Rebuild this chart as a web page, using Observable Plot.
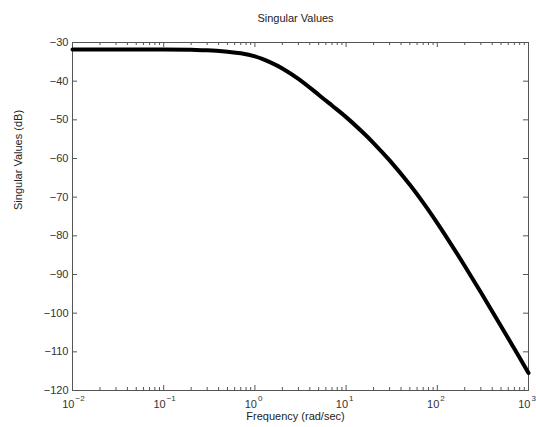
<!DOCTYPE html>
<html>
<head>
<meta charset="utf-8">
<script src="https://cdn.jsdelivr.net/npm/d3@7"></script>
<script src="https://cdn.jsdelivr.net/npm/@observablehq/plot@0.6"></script>
<style>
  body { margin: 0; background: white; }
</style>
</head>
<body>
<div id="chart"></div>
<script>
// Frequency (rad/sec) and singular values (dB)
const freq = [0.01, 0.1, 0.2, 0.3, 0.5, 0.7, 1, 1.5, 2, 3, 5, 7, 10, 15, 20, 30, 50, 70, 100, 150, 200, 300, 500, 700, 1000];
const singularDb = [-31.8, -31.8, -31.9, -32.0, -32.4, -32.8, -33.6, -35.2, -36.7, -39.4, -43.5, -46.3, -49.3, -53.1, -56.0, -60.5, -66.8, -71.4, -76.7, -83.1, -87.8, -94.6, -103.4, -109.2, -115.5];

const yTicks = [-30, -40, -50, -60, -70, -80, -90, -100, -110, -120];
const xExponents = [-2, -1, 0, 1, 2, 3];
const titleText = "Singular Values";
const xLabel = "Frequency (rad/sec)";
const yLabel = "Singular Values (dB)";

const data = freq.map((w, i) => ({w, db: singularDb[i]}));
const xMajor = xExponents.map(e => Math.pow(10, e));
const xMinor = [];
for (let e = -2; e < 3; e++) for (let k = 2; k <= 9; k++) xMinor.push(k * Math.pow(10, e));

const W = 536, H = 427, ML = 72, MR = 8, MT = 42, MB = 37;
const PW = W - ML - MR, PH = H - MT - MB;
const axisColor = "#555";
const textColor = "#333";

const chart = Plot.plot({
  width: W, height: H,
  marginLeft: ML, marginRight: MR, marginTop: MT, marginBottom: MB,
  x: {type: "log", domain: [0.01, 1000], axis: null},
  y: {domain: [-120, -30], axis: null},
  style: {fontFamily: "'Liberation Sans', Arial, sans-serif", fontSize: "11px", background: "white", overflow: "visible"},
  marks: [
    Plot.frame({stroke: axisColor}),
    // y ticks inward, left and right
    Plot.tickY(yTicks, {y: d => d, insetRight: PW - 5, stroke: axisColor}),
    Plot.tickY(yTicks, {y: d => d, insetLeft: PW - 5, stroke: axisColor}),
    // x major ticks inward, bottom and top
    Plot.tickX(xMajor, {x: d => d, insetTop: PH - 5, stroke: axisColor}),
    Plot.tickX(xMajor, {x: d => d, insetBottom: PH - 5, stroke: axisColor}),
    // x minor ticks
    Plot.tickX(xMinor, {x: d => d, insetTop: PH - 3, stroke: axisColor}),
    Plot.tickX(xMinor, {x: d => d, insetBottom: PH - 3, stroke: axisColor}),
    // y tick labels
    Plot.text(yTicks, {x: 0.01, y: d => d, text: d => String(d).replace("-", "\u2212"), textAnchor: "end", dx: -4, fill: textColor, fontSize: 11}),
    // x tick labels: "10" + superscript exponent
    Plot.text(xExponents, {x: e => Math.pow(10, e), y: -120, text: () => "10", textAnchor: "end", dx: 2, dy: 14, fill: textColor, fontSize: 11}),
    Plot.text(xExponents, {x: e => Math.pow(10, e), y: -120, text: e => String(e).replace("-", "\u2212"), textAnchor: "start", dx: 3, dy: 8, fill: textColor, fontSize: 8}),
    // the curve
    Plot.line(data, {x: "w", y: "db", stroke: "black", strokeWidth: 4, curve: "catmull-rom"}),
    // title and axis labels
    Plot.text([titleText], {frameAnchor: "top", dx: -5, dy: -28, fill: "#222", fontSize: 11}),
    Plot.text([xLabel], {frameAnchor: "bottom", dx: -5, dy: 29, fill: "#222", fontSize: 11}),
    Plot.text([yLabel], {frameAnchor: "left", dx: -54.5, dy: -6.5, rotate: -90, fill: "#222", fontSize: 11})
  ]
});
document.getElementById("chart").appendChild(chart);
</script>
</body>
</html>
